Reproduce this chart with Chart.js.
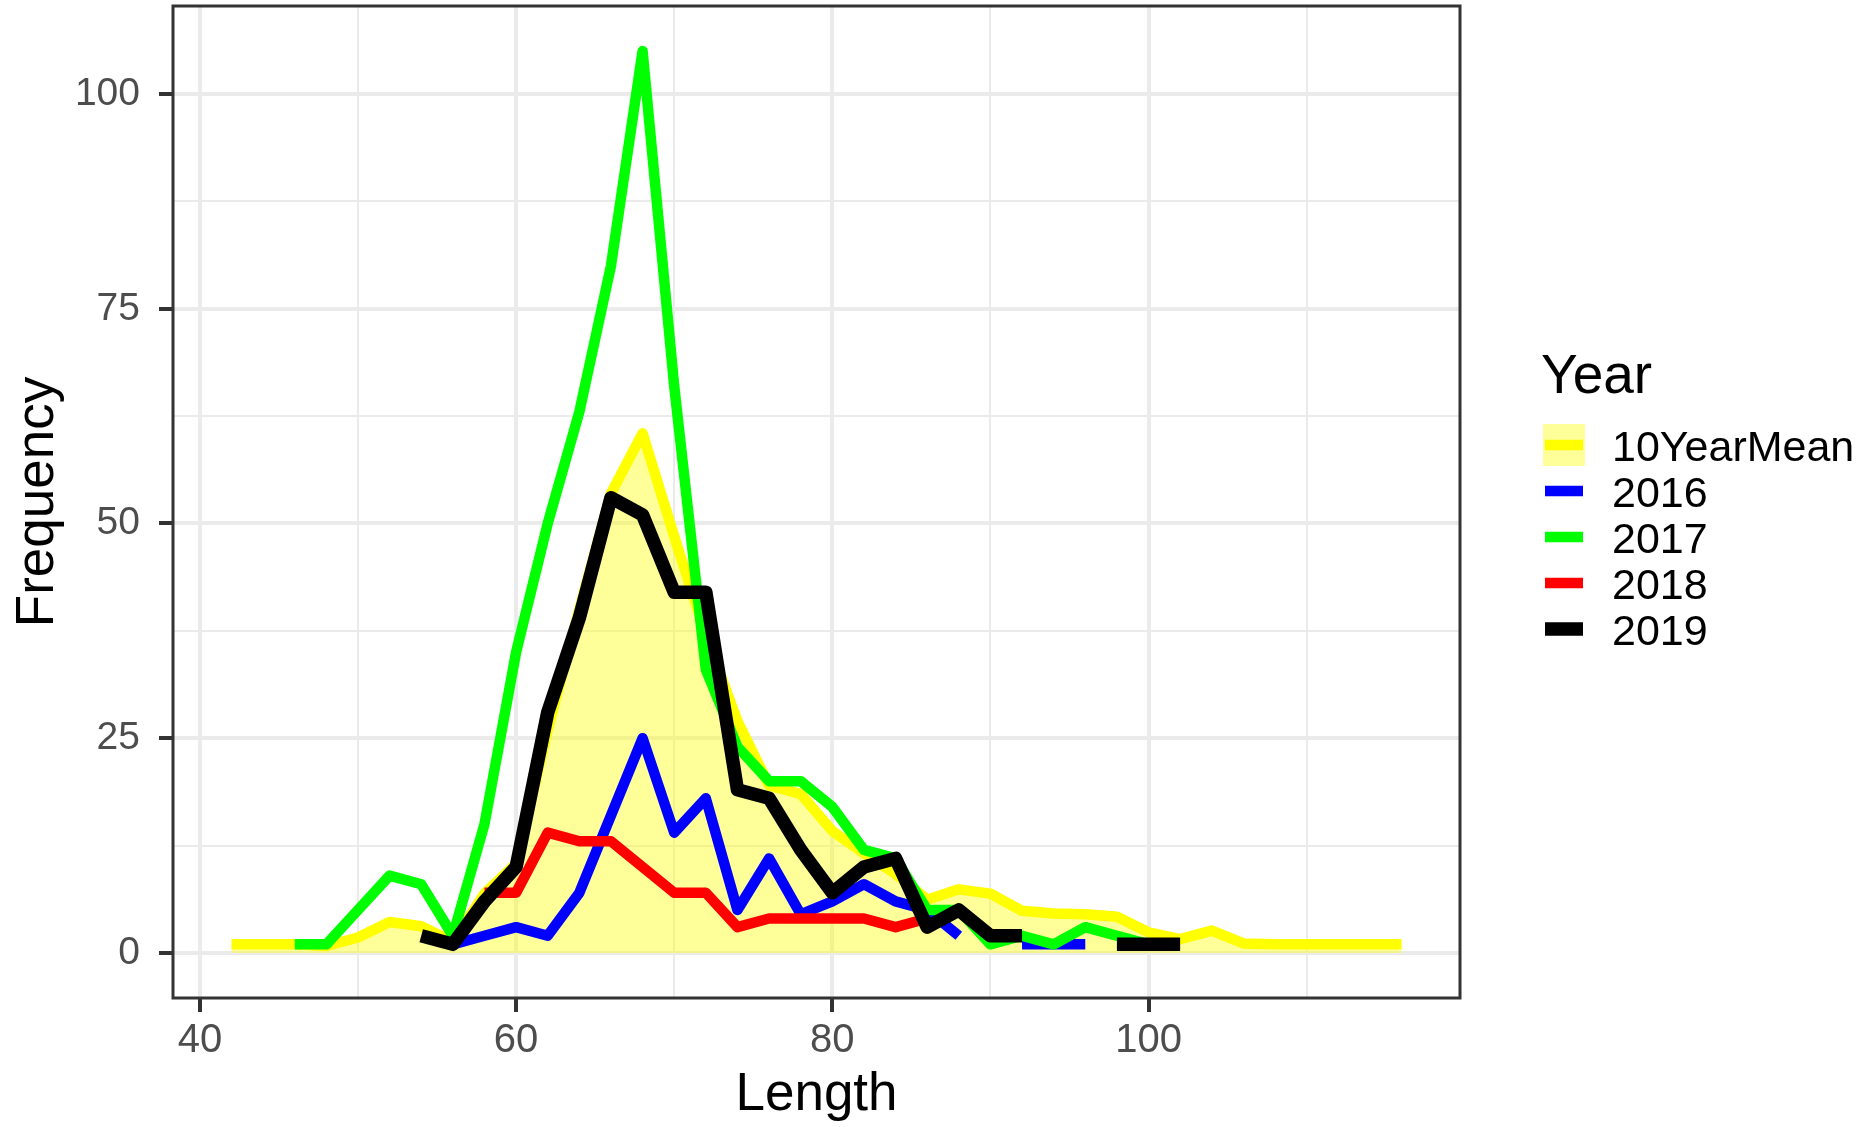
<!DOCTYPE html>
<html>
<head>
<meta charset="utf-8">
<script src="https://cdn.jsdelivr.net/npm/chart.js@4.4.1/dist/chart.umd.min.js"></script>
<style>
  html, body { margin: 0; padding: 0; background: #ffffff; }
  #wrap { width: 1870px; height: 1127px; }
</style>
</head>
<body>
<div id="wrap"><canvas id="myChart" width="1870" height="1127"></canvas></div>
<script>
// length bins (every 2 units)
var lengths = [42,44,46,48,50,52,54,56,58,60,62,64,66,68,70,72,74,76,78,80,82,84,86,88,90,92,94,96,98,100,102,104,106,108,110,112,114,116]

var mean10 = [1,1,1,0.8,1.8,3.6,3.1,1.3,6.9,10.4,26,40,53.5,60.5,48.5,37,27,19.5,18.5,14.2,11.6,9.2,6.2,7.4,6.9,4.9,4.6,4.5,4.2,2.4,1.6,2.6,1.1,1,1,1,1,1]
var y2016 = [null,null,null,null,null,null,null,1,2,3,2,7,16,25,14,18,5,11,4.5,6,8,6,5,2,null,1,1,1,null,null,null,null,null,null,null,null,null,null]
var y2017 = [null,null,1,1,5,9,8,2,15,35,50,63,80,105,66,33,24,20,20,17,12,11,5,5,1,2,1,3,2,1,null,null,null,null,null,null,null,null]
var y2018 = [null,null,null,null,null,null,null,null,7,7,14,13,13,10,7,7,3,4,4,4,4,3,4,null,null,null,null,null,null,null,null,null,null,null,null,null,null,null]
var y2019 = [null,null,null,null,null,null,2,1,6,10,28,39,53,51,42,42,19,18,12,7,10,11,3,5,2,2,null,null,1,1,1,null,null,null,null,null,null,null]

var seriesNames = ['10YearMean','2016','2017','2018','2019']
var seriesColors = ['#FFFF00','#0000FF','#00FF00','#FF0000','#000000']
var seriesWidths = [10.5,10.5,10.5,10.5,13.5]

var xTicks = [40,50,60,70,80,90,100,110]
var yTicks = [0,12.5,25,37.5,50,62.5,75,87.5,100]

function pts(vals){
    return lengths.map(function(l,i){ return {x:l, y:vals[i]} })
}

var allSeries = [mean10,y2016,y2017,y2018,y2019]
var datasets = allSeries.map(function(vals,i){
    var d = {
        label: seriesNames[i],
        data: pts(vals),
        borderColor: seriesColors[i],
        borderWidth: seriesWidths[i],
        borderCapStyle: 'butt',
        borderJoinStyle: 'round',
        pointRadius: 0,
        tension: 0,
        spanGaps: false,
        fill: false,
        order: 5 - i
    }
    if(i===0){
        d.fill = 'origin'
        d.backgroundColor = 'rgba(255,255,0,0.4)'
    }
    return d
})

var FONT = '"Liberation Sans", Arial, sans-serif'

// panel border + legend
var extras = {
    id: 'extras',
    afterDraw: function(chart){
        var ctx = chart.ctx
        var a = chart.chartArea
        ctx.save()
        ctx.strokeStyle = '#333333'
        ctx.lineWidth = 3
        ctx.strokeRect(a.left, a.top, a.right - a.left, a.bottom - a.top)

        // legend
        ctx.fillStyle = '#000000'
        ctx.textBaseline = 'alphabetic'
        ctx.textAlign = 'left'
        ctx.font = '55px ' + FONT
        ctx.fillText('Year', 1541, 393)
        ctx.font = '43px ' + FONT
        var rowY = [445, 491, 537, 583, 629]
        for (var i = 0; i < seriesNames.length; i++){
            var cy = rowY[i]
            if(i===0){
                ctx.fillStyle = 'rgba(255,255,0,0.4)'
                ctx.fillRect(1543, cy - 21, 42, 42)
            }
            ctx.fillStyle = seriesColors[i]
            var w = seriesWidths[i]
            ctx.fillRect(1545, cy - w/2, 38, w)
            ctx.fillStyle = '#000000'
            ctx.fillText(seriesNames[i], 1612, cy + 16)
        }
        ctx.restore()
    }
}

var ctx = document.getElementById('myChart')
var myChart = new Chart(ctx, {
    type: 'line',
    data: { datasets: datasets },
    options: {
        responsive: false,
        animation: false,
        devicePixelRatio: 1,
        layout: { padding: { top: 6, right: 410, left: 0, bottom: 0 } },
        plugins: {
            legend: { display: false },
            tooltip: { enabled: false }
        },
        scales: {
            x: {
                type: 'linear',
                min: 38.3,
                max: 119.7,
                afterBuildTicks: function(scale){
                    scale.ticks = xTicks.map(function(v){ return {value:v} })
                },
                afterFit: function(scale){
                    scale.height = 129
                    scale.paddingLeft = 0
                    scale.paddingRight = 0
                },
                border: { display: false },
                grid: {
                    color: '#EBEBEB',
                    lineWidth: function(c){ return c.tick && c.tick.value % 20 === 0 ? 4 : 2 },
                    tickLength: 14,
                    tickWidth: 4,
                    tickColor: function(c){ return c.tick && c.tick.value % 20 === 0 ? '#333333' : 'rgba(0,0,0,0)' }
                },
                ticks: {
                    autoSkip: false,
                    maxRotation: 0,
                    padding: 5,
                    color: '#4D4D4D',
                    font: { family: FONT, size: 40 },
                    callback: function(v){ return v % 20 === 0 ? String(v) : '' }
                },
                title: {
                    display: true,
                    text: 'Length',
                    color: '#000000',
                    font: { family: FONT, size: 53 },
                    padding: { top: 0, bottom: 0 }
                }
            },
            y: {
                type: 'linear',
                min: -5.25,
                max: 110.25,
                afterBuildTicks: function(scale){
                    scale.ticks = yTicks.map(function(v){ return {value:v} })
                },
                afterFit: function(scale){
                    scale.width = 173
                    scale.paddingTop = 0
                    scale.paddingBottom = 0
                },
                border: { display: false },
                grid: {
                    color: '#EBEBEB',
                    lineWidth: function(c){ return c.tick && c.tick.value % 25 === 0 ? 4 : 2 },
                    tickLength: 14,
                    tickWidth: 4,
                    tickColor: function(c){ return c.tick && c.tick.value % 25 === 0 ? '#333333' : 'rgba(0,0,0,0)' }
                },
                ticks: {
                    autoSkip: false,
                    padding: 19,
                    color: '#4D4D4D',
                    font: { family: FONT, size: 39 },
                    callback: function(v){ return v % 25 === 0 ? String(v) : '' }
                },
                title: {
                    display: true,
                    text: 'Frequency',
                    color: '#000000',
                    font: { family: FONT, size: 53 },
                    padding: { top: 7, bottom: 0 }
                }
            }
        }
    },
    plugins: [extras]
})
</script>
</body>
</html>
